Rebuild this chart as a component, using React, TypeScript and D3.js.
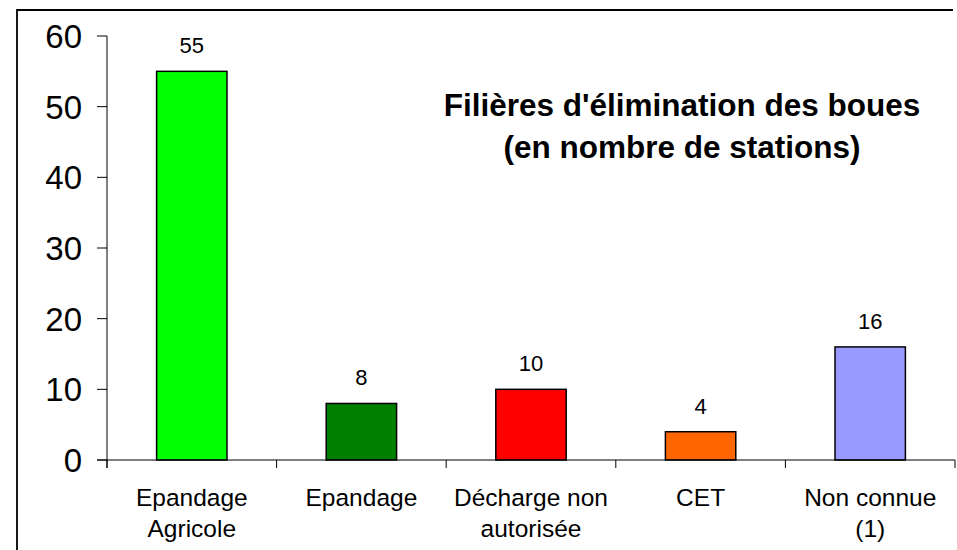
import React from "react";
import * as d3 from "d3";

const categories: string[][] = [
  ["Epandage", "Agricole"],
  ["Epandage"],
  ["Décharge non", "autorisée"],
  ["CET"],
  ["Non connue", "(1)"],
];
const values: number[] = [55, 8, 10, 4, 16];
const colors: string[] = ["#00FF00", "#008000", "#FF0000", "#FF6600", "#9999FF"];
const yTicks: number[] = [0, 10, 20, 30, 40, 50, 60];
const titleLines: string[] = ["Filières d'élimination des boues", "(en nombre de stations)"];

const W = 957;
const H = 550;
const FONT = "'Liberation Sans', Arial, Helvetica, sans-serif";

export default function App() {
  const x0 = 107;
  const x1 = 955;
  const y = d3.scaleLinear().domain([0, 60]).range([460, 36]);
  const x = d3
    .scaleBand<number>()
    .domain(values.map((_, i) => i))
    .range([x0, x1])
    .paddingInner(0.585)
    .paddingOuter(0.2925);
  const step = (x1 - x0) / values.length;
  const boundaries = d3.range(values.length + 1).map((i) => x0 + i * step);

  return (
    <svg
      width={W}
      height={H}
      style={{ position: "absolute", left: 0, top: 0, background: "#fff" }}
      fontFamily={FONT}
    >
      <rect x={0} y={0} width={W} height={H} fill="#fff" />
      <path d={`M17,${H + 2} L17,10 L953,10`} fill="none" stroke="#000" strokeWidth={1.8} />

      {/* bars */}
      {values.map((v, i) => (
        <rect
          key={i}
          x={x(i)!}
          y={y(v)}
          width={x.bandwidth()}
          height={y(0) - y(v)}
          fill={colors[i]}
          stroke="#000"
          strokeWidth={1.5}
        />
      ))}

      {/* axes */}
      <line x1={x0} x2={x0} y1={y(60)} y2={468} stroke="#000" strokeWidth={1} />
      <line x1={97} x2={x1} y1={y(0)} y2={y(0)} stroke="#000" strokeWidth={1} />
      {yTicks.map((t) => (
        <g key={t}>
          <line x1={97} x2={x0} y1={y(t)} y2={y(t)} stroke="#000" strokeWidth={1} />
          <text x={82} y={y(t) + 12} textAnchor="end" fontSize={33} fill="#000">
            {t}
          </text>
        </g>
      ))}
      {boundaries.map((b, i) => (
        <line key={i} x1={b} x2={b} y1={y(0)} y2={468} stroke="#000" strokeWidth={1} />
      ))}

      {/* value labels */}
      {values.map((v, i) => (
        <text
          key={i}
          x={x(i)! + x.bandwidth() / 2}
          y={y(v) - 18}
          textAnchor="middle"
          fontSize={22}
          fill="#000"
        >
          {v}
        </text>
      ))}

      {/* category labels */}
      {categories.map((lines, i) => (
        <text key={i} textAnchor="middle" fontSize={24.5} fill="#000">
          {lines.map((l, j) => (
            <tspan key={j} x={x(i)! + x.bandwidth() / 2} y={506 + j * 31}>
              {l}
            </tspan>
          ))}
        </text>
      ))}

      {/* title */}
      {titleLines.map((l, j) => (
        <text
          key={j}
          x={682}
          y={116 + j * 42}
          textAnchor="middle"
          fontSize={31.5}
          fontWeight="bold"
          fill="#000"
        >
          {l}
        </text>
      ))}
    </svg>
  );
}
